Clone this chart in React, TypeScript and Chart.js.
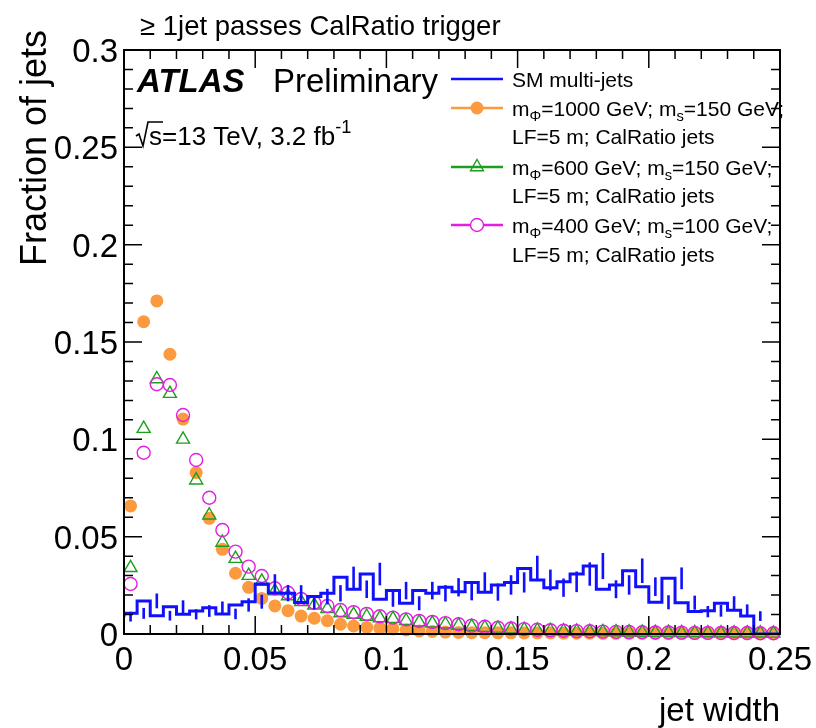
import React, { useEffect, useRef } from "react";
import { Chart, registerables } from "chart.js";

Chart.register(...registerables);

// ---------------- data ----------------
const X_MIN = 0;
const X_MAX = 0.25;
const Y_MIN = 0;
const Y_MAX = 0.3;
const N_BINS = 50;

const smMultijets = [
  0.0089, 0.0106, 0.017, 0.0094, 0.014, 0.0101, 0.0118, 0.0135, 0.0103, 0.0149,
  0.0166, 0.0257, 0.021, 0.0209, 0.0162, 0.0192, 0.0209, 0.0291, 0.023, 0.0308,
  0.0178, 0.0223, 0.0158, 0.0223, 0.0209, 0.024, 0.0217, 0.0265, 0.0215, 0.0252,
  0.0265, 0.0337, 0.0277, 0.0238, 0.0268, 0.0308, 0.0349, 0.023, 0.0252, 0.0325,
  0.0243, 0.0163, 0.0286, 0.0161, 0.0115, 0.0119, 0.0158, 0.0122, 0.0092, 0,
];
const smErrors = [
  0.0025, 0.0028, 0.0038, 0.0025, 0.0033, 0.0026, 0.003, 0.0032, 0.0027, 0.0034,
  0.0036, 0.005, 0.0042, 0.0042, 0.0036, 0.004, 0.0042, 0.0055, 0.0045, 0.0058,
  0.0038, 0.0045, 0.0036, 0.0045, 0.0042, 0.0047, 0.0044, 0.0052, 0.0044, 0.005,
  0.0052, 0.0065, 0.0054, 0.0047, 0.0053, 0.006, 0.0067, 0.0046, 0.005, 0.0063,
  0.0048, 0.0036, 0.0056, 0.0036, 0.0029, 0.003, 0.0036, 0.003, 0.0025, 0,
];
const m1000 = [
  0.0658, 0.1604, 0.1711, 0.1437, 0.1104, 0.0829, 0.0594, 0.0435, 0.0312, 0.024,
  0.0183, 0.0144, 0.012, 0.0092, 0.0081, 0.0068, 0.005, 0.0041, 0.0034, 0.003,
  0.0026, 0.0021, 0.0016, 0.0013, 0.001, 0.0008, 0.0007, 0.0007, 0.0006, 0.0006,
  0.0005, 0.0005, 0.0005, 0.0004, 0.0004, 0.0004, 0.0003, 0.0003, 0.0003, 0.0003,
  0.0002, 0.0002, 0.0002, 0.0002, 0.0002, 0.0002, 0.0001, 0.0001, 0.0001, 0.0001,
];
const m600 = [
  0.034, 0.1055, 0.131, 0.1235, 0.1, 0.079, 0.061, 0.047, 0.0387, 0.03,
  0.027, 0.022, 0.0195, 0.0165, 0.0148, 0.013, 0.0108, 0.01, 0.009, 0.0082,
  0.0078, 0.0068, 0.006, 0.0055, 0.005, 0.0044, 0.0038, 0.0033, 0.0029, 0.0025,
  0.0022, 0.0019, 0.0017, 0.0015, 0.0013, 0.0012, 0.0011, 0.001, 0.0009, 0.0008,
  0.0007, 0.0007, 0.0006, 0.0006, 0.0005, 0.0005, 0.0004, 0.0004, 0.0004, 0.0003,
];
const m400 = [
  0.0257, 0.0931, 0.1283, 0.1279, 0.1125, 0.0894, 0.07, 0.0534, 0.0423, 0.0346,
  0.0298, 0.0235, 0.0212, 0.018, 0.0161, 0.0144, 0.0123, 0.0112, 0.0103, 0.0091,
  0.0084, 0.0075, 0.0067, 0.0062, 0.0056, 0.005, 0.0043, 0.0037, 0.0032, 0.0028,
  0.0025, 0.0022, 0.0019, 0.0017, 0.0015, 0.0014, 0.0012, 0.0011, 0.001, 0.0009,
  0.0008, 0.0008, 0.0007, 0.0006, 0.0006, 0.0005, 0.0005, 0.0005, 0.0004, 0.0004,
];

const xTickLabels = ["0", "0.05", "0.1", "0.15", "0.2", "0.25"];
const yTickLabels = ["0", "0.05", "0.1", "0.15", "0.2", "0.25", "0.3"];
const X_MINOR = 0.01;
const Y_MINOR = 0.01;

const titleText = "\u2265 1jet passes CalRatio trigger";
const xTitle = "jet width";
const yTitle = "Fraction of jets";

// ---------------- style ----------------
const BLUE = "#1010ff";
const ORANGE = "#fb9a3e";
const GREEN = "#1e9e1e";
const MAGENTA = "#e21ee2";
const FONT = "'Liberation Sans', Arial, Helvetica, sans-serif";

const binWidth = (X_MAX - X_MIN) / N_BINS;
const binCenter = (i: number) => X_MIN + (i + 0.5) * binWidth;
const binLow = (i: number) => X_MIN + i * binWidth;

type Seg = [string, "n" | "sub" | "sup"];

function drawRich(ctx: CanvasRenderingContext2D, x: number, y: number, segs: Seg[], size: number, color = "#000") {
  let cx = x;
  ctx.fillStyle = color;
  ctx.textAlign = "left";
  ctx.textBaseline = "alphabetic";
  for (const [t, k] of segs) {
    if (k === "n") {
      ctx.font = `${size}px ${FONT}`;
      ctx.fillText(t, cx, y);
      cx += ctx.measureText(t).width;
    } else {
      const s = size * 0.7;
      ctx.font = `${s}px ${FONT}`;
      const dy = k === "sub" ? size * 0.28 : -size * 0.45;
      ctx.fillText(t, cx, y + dy);
      cx += ctx.measureText(t).width;
    }
  }
  return cx;
}

const atlasPlugin = {
  id: "atlasDecor",
  afterDatasetsDraw(chart: any) {
    const { ctx, scales } = chart;
    const xs = scales.x;
    const ys = scales.y;
    ctx.save();
    ctx.strokeStyle = BLUE;
    ctx.lineWidth = 2.6;
    smMultijets.forEach((v, i) => {
      const e = smErrors[i];
      if (!e) return;
      const px = xs.getPixelForValue(binCenter(i));
      ctx.beginPath();
      ctx.moveTo(px, ys.getPixelForValue(v - e));
      ctx.lineTo(px, ys.getPixelForValue(v + e));
      ctx.stroke();
    });
    ctx.restore();
  },
  afterDraw(chart: any) {
    const { ctx, chartArea, scales } = chart;
    const xs = scales.x;
    const ys = scales.y;
    const { left, right, top, bottom } = chartArea;
    ctx.save();

    // frame
    ctx.strokeStyle = "#000";
    ctx.lineWidth = 2;
    ctx.strokeRect(left, top, right - left, bottom - top);

    // ticks
    ctx.lineWidth = 1.5;
    const nx = Math.round((X_MAX - X_MIN) / X_MINOR);
    for (let k = 0; k <= nx; k++) {
      const px = xs.getPixelForValue(X_MIN + k * X_MINOR);
      const len = k % 5 === 0 ? 18 : 9;
      ctx.beginPath();
      ctx.moveTo(px, bottom);
      ctx.lineTo(px, bottom - len);
      ctx.moveTo(px, top);
      ctx.lineTo(px, top + len);
      ctx.stroke();
    }
    const ny = Math.round((Y_MAX - Y_MIN) / Y_MINOR);
    for (let k = 0; k <= ny; k++) {
      const py = ys.getPixelForValue(Y_MIN + k * Y_MINOR);
      const len = k % 5 === 0 ? 18 : 9;
      ctx.beginPath();
      ctx.moveTo(left, py);
      ctx.lineTo(left + len, py);
      ctx.moveTo(right, py);
      ctx.lineTo(right - len, py);
      ctx.stroke();
    }

    // tick labels
    ctx.fillStyle = "#000";
    ctx.font = `33px ${FONT}`;
    ctx.textBaseline = "alphabetic";
    ctx.textAlign = "center";
    xTickLabels.forEach((t) => {
      ctx.fillText(t, xs.getPixelForValue(parseFloat(t)), bottom + 36);
    });
    ctx.textAlign = "right";
    yTickLabels.forEach((t) => {
      ctx.fillText(t, left - 6, ys.getPixelForValue(parseFloat(t)) + 12);
    });

    // axis titles
    ctx.font = `33px ${FONT}`;
    ctx.textAlign = "right";
    ctx.fillText(xTitle, right, 721);
    ctx.save();
    ctx.translate(46, 30);
    ctx.rotate(-Math.PI / 2);
    ctx.font = `36px ${FONT}`;
    ctx.textAlign = "right";
    ctx.fillText(yTitle, 0, 0);
    ctx.restore();

    // top title
    ctx.textAlign = "left";
    ctx.font = `27.5px ${FONT}`;
    ctx.fillText(titleText, 140, 35);

    // ATLAS Preliminary
    ctx.font = `italic bold 33px ${FONT}`;
    ctx.fillText("ATLAS", 137, 92);
    ctx.font = `33px ${FONT}`;
    ctx.fillText("Preliminary", 273, 92);

    // sqrt(s) line
    const b = 145;
    const x0 = 136;
    ctx.font = `26px ${FONT}`;
    const sw = ctx.measureText("s").width;
    ctx.lineWidth = 1.6;
    ctx.beginPath();
    ctx.moveTo(x0, b - 9);
    ctx.lineTo(x0 + 3, b - 11);
    ctx.lineTo(x0 + 7, b + 1);
    ctx.lineTo(x0 + 12, b - 23);
    ctx.lineTo(x0 + 14 + sw, b - 23);
    ctx.stroke();
    drawRich(ctx, x0 + 13, b, [["s=13 TeV, 3.2 fb", "n"], ["-1", "sup"]], 26);

    // legend
    const lx0 = 451;
    const lx1 = 503;
    const mx = (lx0 + lx1) / 2;
    const tx = 512;
    const fs = 21;
    const off = 7.5;
    const line = (yy: number, c: string) => {
      ctx.strokeStyle = c;
      ctx.lineWidth = 2.4;
      ctx.beginPath();
      ctx.moveTo(lx0, yy);
      ctx.lineTo(lx1, yy);
      ctx.stroke();
    };
    // SM
    line(79, BLUE);
    drawRich(ctx, tx, 79 + off, [["SM multi-jets", "n"]], fs);
    // m1000
    line(108, ORANGE);
    ctx.fillStyle = ORANGE;
    ctx.beginPath();
    ctx.arc(mx, 108, 6.5, 0, Math.PI * 2);
    ctx.fill();
    drawRich(ctx, tx, 108 + off, [["m", "n"], ["\u03A6", "sub"], ["=1000 GeV; m", "n"], ["s", "sub"], ["=150 GeV;", "n"]], fs);
    drawRich(ctx, tx, 136 + off, [["LF=5 m; CalRatio jets", "n"]], fs);
    // m600
    line(167, GREEN);
    ctx.fillStyle = "#fff";
    ctx.strokeStyle = GREEN;
    ctx.lineWidth = 1.4;
    ctx.beginPath();
    ctx.moveTo(mx, 167 - 7.5);
    ctx.lineTo(mx + 6.5, 167 + 3.75);
    ctx.lineTo(mx - 6.5, 167 + 3.75);
    ctx.closePath();
    ctx.stroke();
    drawRich(ctx, tx, 167 + off, [["m", "n"], ["\u03A6", "sub"], ["=600 GeV; m", "n"], ["s", "sub"], ["=150 GeV;", "n"]], fs);
    drawRich(ctx, tx, 195 + off, [["LF=5 m; CalRatio jets", "n"]], fs);
    // m400
    line(225, MAGENTA);
    ctx.fillStyle = "#fff";
    ctx.beginPath();
    ctx.arc(mx, 225, 6.5, 0, Math.PI * 2);
    ctx.fill();
    ctx.strokeStyle = MAGENTA;
    ctx.lineWidth = 1.4;
    ctx.stroke();
    drawRich(ctx, tx, 225 + off, [["m", "n"], ["\u03A6", "sub"], ["=400 GeV; m", "n"], ["s", "sub"], ["=100 GeV;", "n"]], fs);
    drawRich(ctx, tx, 254 + off, [["LF=5 m; CalRatio jets", "n"]], fs);

    ctx.restore();
  },
};

export default function App() {
  const ref = useRef<HTMLCanvasElement | null>(null);

  useEffect(() => {
    document.body.style.margin = "0";
    const canvas = ref.current;
    if (!canvas) return;

    const histPts = smMultijets.map((v, i) => ({ x: binLow(i), y: v }));
    histPts.push({ x: X_MAX, y: smMultijets[N_BINS - 1] });

    const pts = (arr: number[]) => arr.map((v, i) => ({ x: binCenter(i), y: v }));

    const chart = new Chart(canvas, {
      type: "line",
      data: {
        datasets: [
          {
            label: "SM multi-jets",
            data: histPts,
            borderColor: BLUE,
            borderWidth: 3,
            stepped: "after",
            pointRadius: 0,
            fill: false,
            order: 0,
          },
          {
            label: "m400",
            data: pts(m400),
            showLine: false,
            pointStyle: "circle",
            pointRadius: 6.5,
            pointBackgroundColor: "rgba(0,0,0,0)",
            pointBorderColor: MAGENTA,
            pointBorderWidth: 1.4,
            clip: false,
            order: 1,
          },
          {
            label: "m600",
            data: pts(m600),
            showLine: false,
            pointStyle: "triangle",
            pointRadius: 7.5,
            pointBackgroundColor: "rgba(0,0,0,0)",
            pointBorderColor: GREEN,
            pointBorderWidth: 1.4,
            clip: false,
            order: 2,
          },
          {
            label: "m1000",
            data: pts(m1000),
            showLine: false,
            pointStyle: "circle",
            pointRadius: 6.5,
            pointBackgroundColor: ORANGE,
            pointBorderColor: ORANGE,
            pointBorderWidth: 0,
            clip: false,
            order: 3,
          },
        ],
      } as any,
      options: {
        responsive: false,
        animation: false,
        devicePixelRatio: 1,
        layout: { padding: { left: 124, top: 50, right: 36, bottom: 94 } },
        plugins: { legend: { display: false }, tooltip: { enabled: false }, title: { display: false } },
        scales: {
          x: { type: "linear", min: X_MIN, max: X_MAX, display: false },
          y: { type: "linear", min: Y_MIN, max: Y_MAX, display: false },
        },
        events: [],
      } as any,
      plugins: [atlasPlugin],
    });
    return () => chart.destroy();
  }, []);

  return (
    <div style={{ width: 816, height: 728, background: "#fff" }}>
      <canvas ref={ref} width={816} height={728} style={{ display: "block" }} />
    </div>
  );
}
